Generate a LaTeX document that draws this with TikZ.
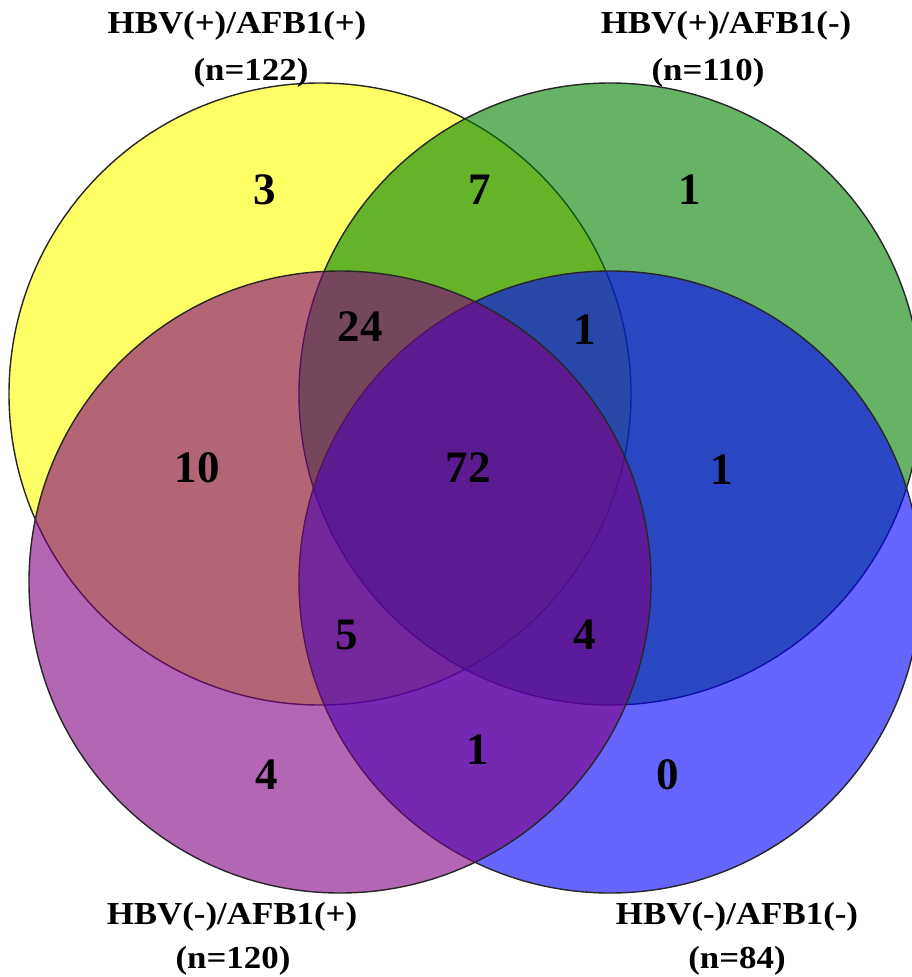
\documentclass[tikz,border=0pt]{standalone}
\usepackage{fontspec}
\setmainfont{Liberation Serif}
\definecolor{cyel}{RGB}{255,255,0}
\definecolor{cgrn}{RGB}{0,128,0}
\definecolor{cblu}{RGB}{0,0,255}
\definecolor{cpur}{RGB}{128,0,128}
\tikzset{
  setcirc/.style={circle, minimum size=622pt, inner sep=0pt, draw=black!85, line width=1.4pt, fill opacity=0.6, draw opacity=1},
  title/.style={anchor=base, inner sep=0pt, font=\fontsize{32}{38}\selectfont\bfseries, xscale=1.09},
  count/.style={anchor=center, inner sep=0pt, font=\fontsize{45}{54}\selectfont\bfseries}
}
\begin{document}
\begin{tikzpicture}[x=1pt,y=-1pt]
\useasboundingbox (0,0) rectangle (912,977);
\node[setcirc, fill=cyel] (cy) at (320,394) {};
\node[setcirc, fill=cgrn] (cg) at (610,394) {};
\node[setcirc, fill=cblu] (cb) at (610,582) {};
\node[setcirc, fill=cpur] (cp) at (340,582) {};
% titles
\node[title] (t1a) at (237,33) {HBV(+)/AFB1(+)};
\node[title] (t1b) at (251,80) {(n=122)};
\node[title] (t2a) at (726,33) {HBV(+)/AFB1(-)};
\node[title] (t2b) at (708,80) {(n=110)};
\node[title] (t3a) at (232,924) {HBV(-)/AFB1(+)};
\node[title] (t3b) at (233,968) {(n=120)};
\node[title] (t4a) at (737,924) {HBV(-)/AFB1(-)};
\node[title] (t4b) at (737,968) {(n=84)};
% counts
\node[count] (n1) at (265,190) {3};
\node[count] (n2) at (480,190) {7};
\node[count] (n3) at (690,190) {1};
\node[count] (n4) at (360,327) {24};
\node[count] (n5) at (585,330) {1};
\node[count] (n6) at (197,468) {10};
\node[count] (n7) at (468,468) {72};
\node[count] (n8) at (722,470) {1};
\node[count] (n9) at (347,635) {5};
\node[count] (n10) at (585,635) {4};
\node[count] (n11) at (478,750) {1};
\node[count] (n12) at (267,775) {4};
\node[count] (n13) at (668,775) {0};
\end{tikzpicture}
\end{document}
